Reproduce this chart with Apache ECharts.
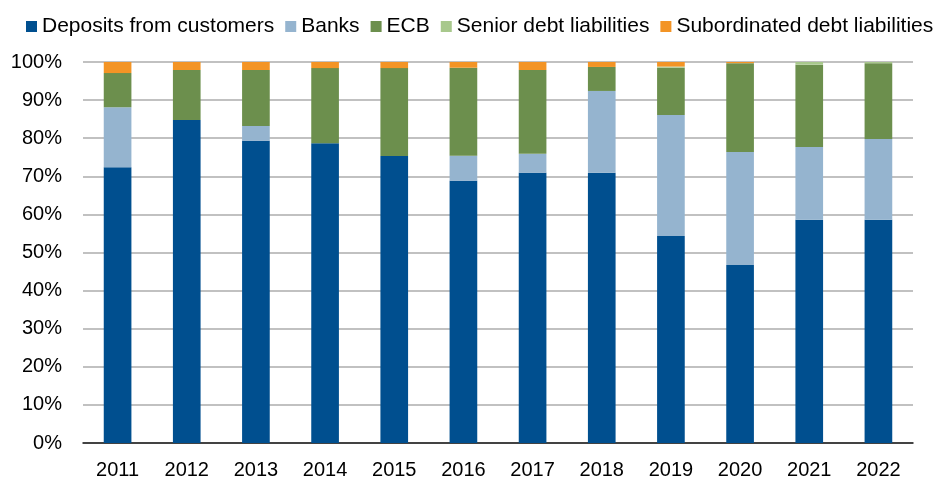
<!DOCTYPE html>
<html>
<head>
<meta charset="utf-8">
<script src="https://cdn.jsdelivr.net/npm/echarts@6/dist/echarts.min.js"></script>
<style>
  html, body { margin: 0; padding: 0; background: #ffffff; }
  #chart { width: 941px; height: 480px; }
</style>
</head>
<body>
<div id="chart"></div>
<script>
// Funding structure by source, share of total liabilities (%)
const years = ['2011', '2012', '2013', '2014', '2015', '2016', '2017', '2018', '2019', '2020', '2021', '2022'];
const depositsFromCustomers = [72.4, 84.8, 79.3, 78.7, 75.3, 68.8, 70.9, 70.9, 54.3, 46.7, 58.6, 58.6];
const banks = [15.7, 0, 3.9, 0, 0, 6.6, 5.0, 21.5, 31.8, 29.7, 19.1, 21.2];
const ecb = [9.0, 13.1, 14.7, 19.7, 23.1, 23.1, 22.0, 6.3, 12.4, 23.3, 21.6, 19.9];
const seniorDebt = [0, 0, 0, 0, 0, 0, 0, 0, 0.3, 0, 0.7, 0.3];
const subordinatedDebt = [2.9, 2.1, 2.1, 1.6, 1.6, 1.5, 2.1, 1.3, 1.2, 0.3, 0, 0];

const fontFamily = '"Liberation Sans", Arial, sans-serif';

function barSeries(name, data, color) {
  return {
    name: name,
    type: 'bar',
    stack: 'total',
    data: data,
    barWidth: '40%',
    itemStyle: { color: color },
    emphasis: { disabled: true }
  };
}

const chart = echarts.init(document.getElementById('chart'), null, { renderer: 'canvas' });
chart.setOption({
  animation: false,
  backgroundColor: '#ffffff',
  textStyle: { fontFamily: fontFamily },
  legend: {
    left: 21,
    top: 11,
    icon: 'rect',
    itemWidth: 11,
    itemHeight: 11,
    itemGap: 11,
    textStyle: { fontFamily: fontFamily, fontSize: 21, color: '#000000' },
    selectedMode: false
  },
  grid: { left: 83, right: 28, top: 62, bottom: 37, containLabel: false },
  xAxis: {
    type: 'category',
    data: years,
    axisLine: { show: true, lineStyle: { color: '#1a1a1a', width: 1.5 } },
    axisTick: { show: false },
    axisLabel: { color: '#000000', fontSize: 20, margin: 17, fontFamily: fontFamily },
    splitLine: { show: false }
  },
  yAxis: {
    type: 'value',
    min: 0,
    max: 100,
    interval: 10,
    axisLine: { show: false },
    axisTick: { show: false },
    axisLabel: { color: '#000000', fontSize: 20, margin: 21, formatter: '{value}%', fontFamily: fontFamily },
    splitLine: { show: true, lineStyle: { color: '#adadad', width: 1.5 } }
  },
  series: [
    barSeries('Deposits from customers', depositsFromCustomers, '#004F8F'),
    barSeries('Banks', banks, '#95B4CF'),
    barSeries('ECB', ecb, '#6C8F4D'),
    barSeries('Senior debt liabilities', seniorDebt, '#A8C88C'),
    barSeries('Subordinated debt liabilities', subordinatedDebt, '#F39425')
  ]
});
</script>
</body>
</html>
